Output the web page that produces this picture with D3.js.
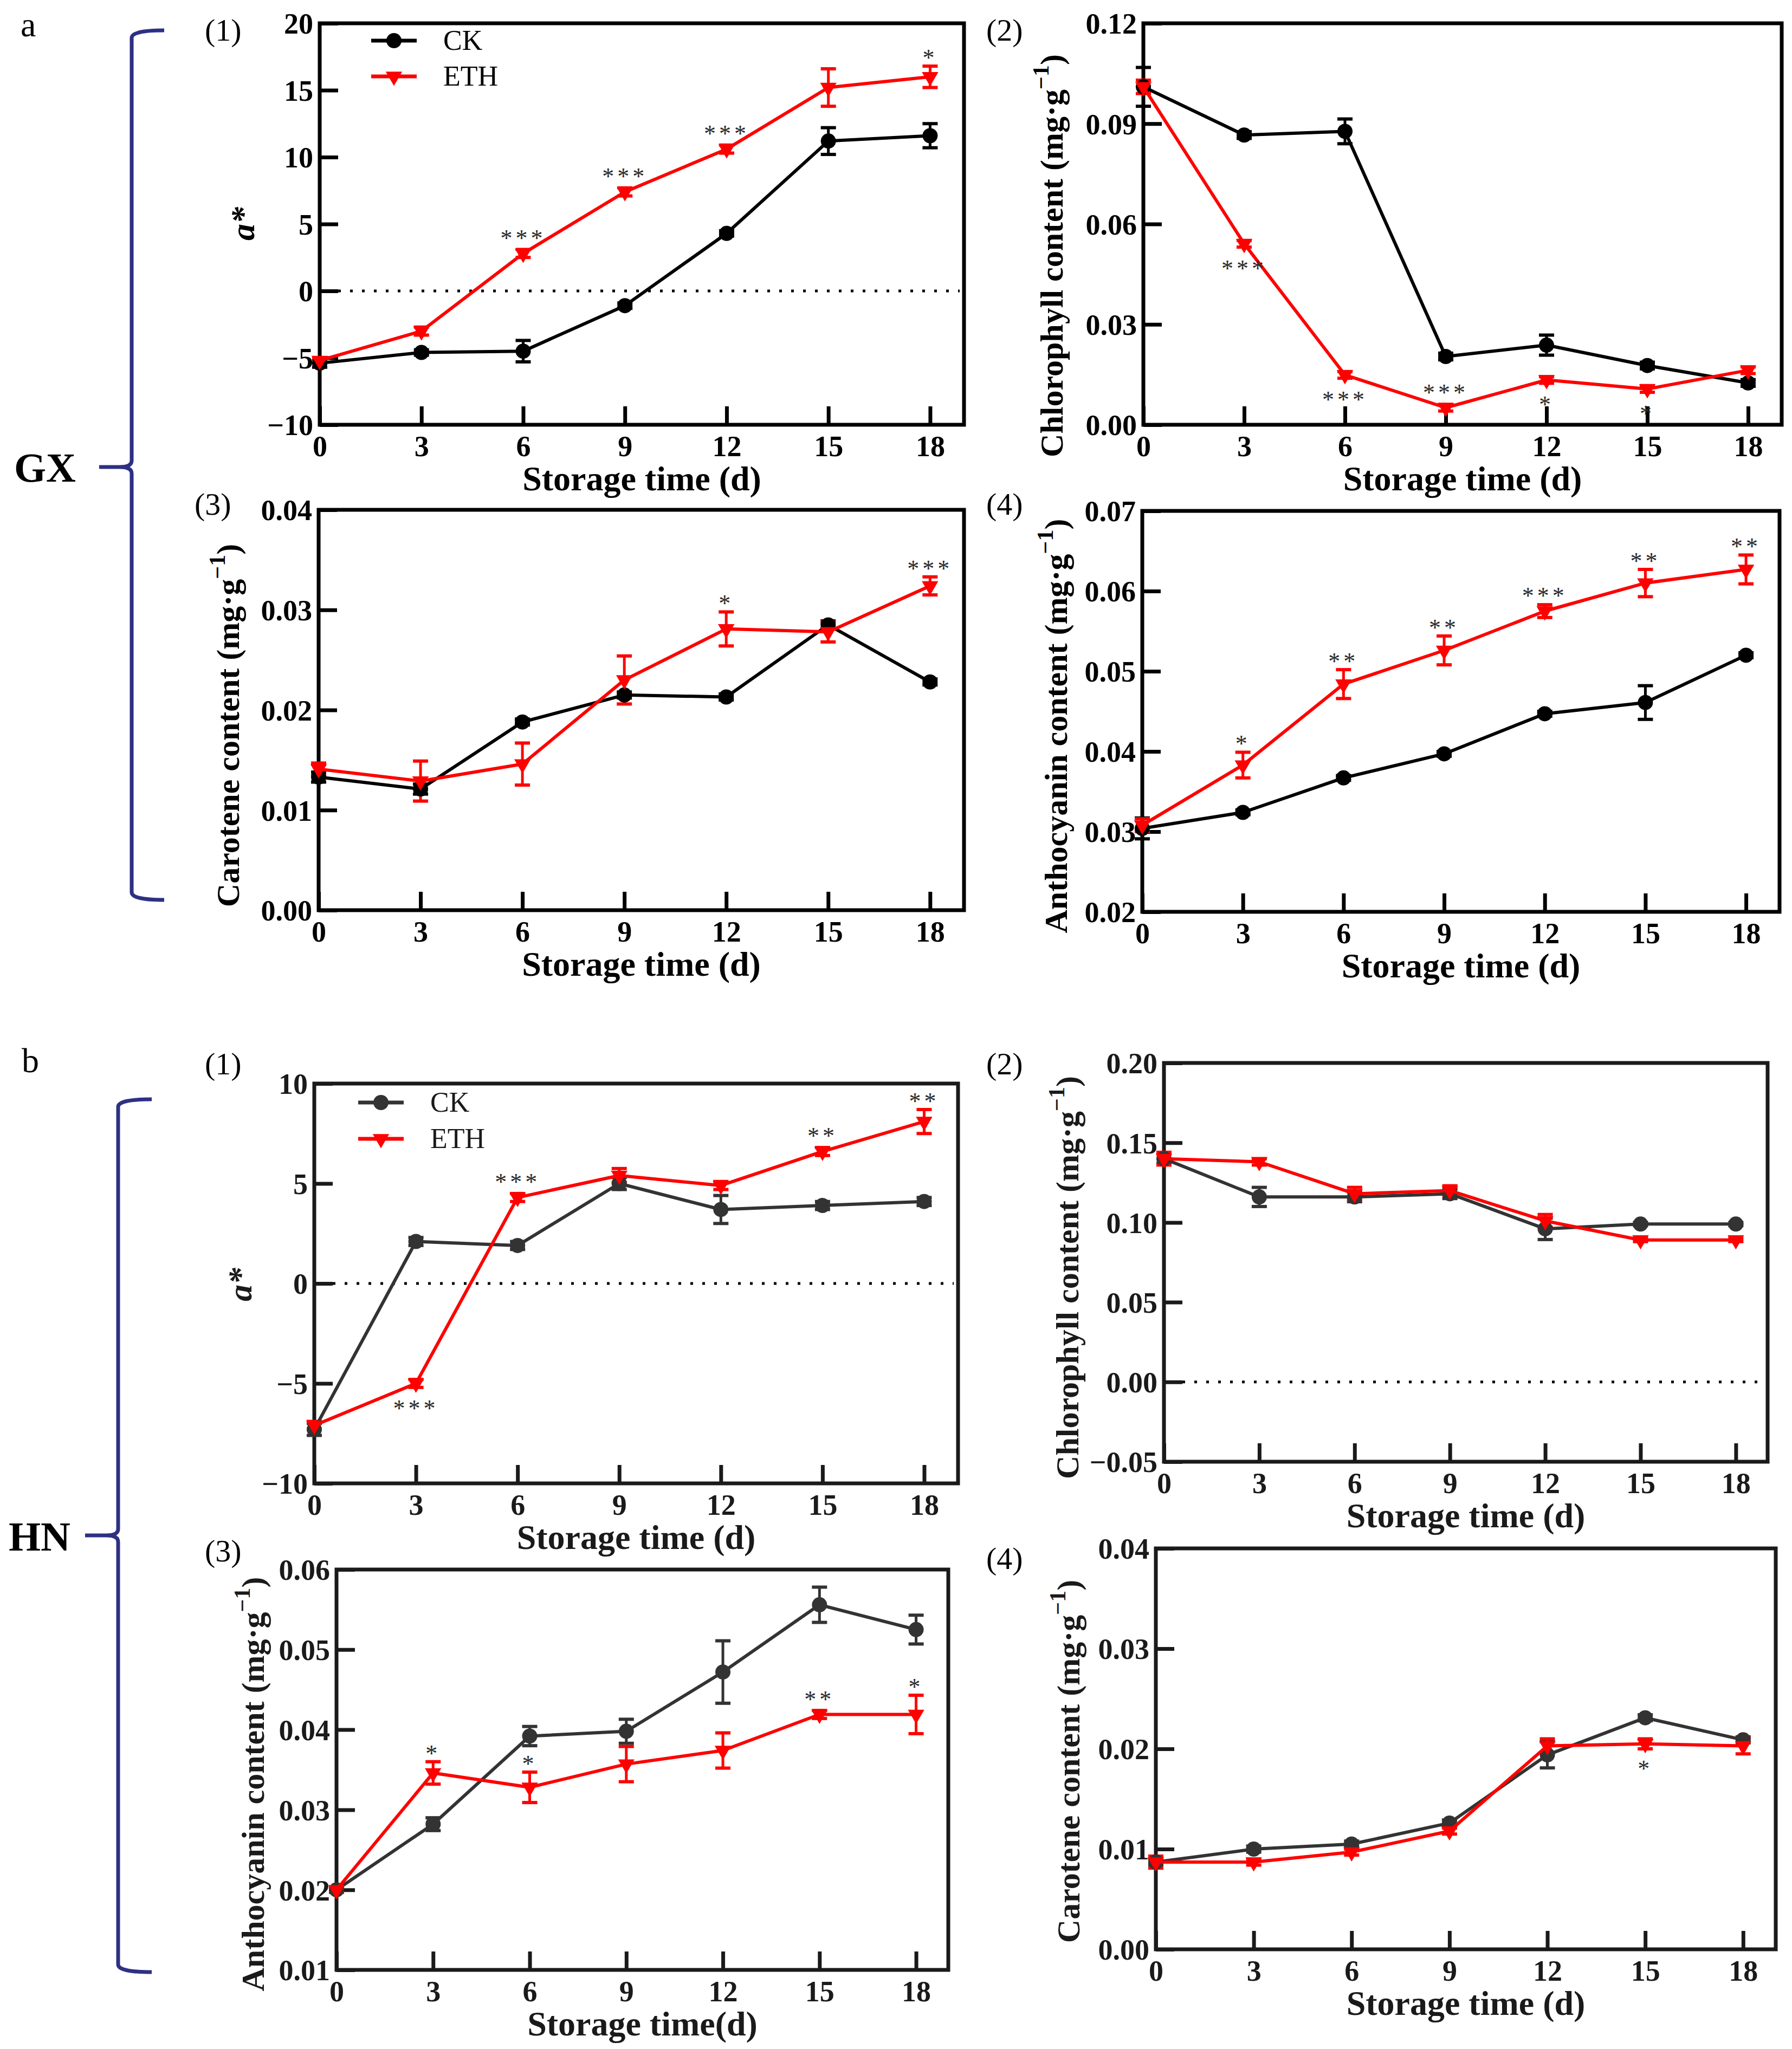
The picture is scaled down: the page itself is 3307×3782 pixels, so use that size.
<!DOCTYPE html>
<html lang="en">
<head>
<meta charset="UTF-8">
<title>GX / HN colour and pigment changes during storage</title>
<style>
    body { margin: 0; background: #fff; }
    svg { display: block; font-family: "Liberation Serif", "Times New Roman", serif; }
</style>
</head>
<body>
<svg id="fig" width="3307" height="3782"></svg>
<script src="https://d3js.org/d3.v7.min.js"></script>
<script>
    // Storage days (x axis)
    const days = [0, 3, 6, 9, 12, 15, 18];
    const seriesNames = ["CK", "ETH"];

    // ---- a: GX ----
    const gxAstarCK      = [-5.4, -4.6, -4.5, -1.1, 4.3, 11.2, 11.6];
    const gxAstarCKErr   = [0.3, 0.2, 0.8, 0.2, 0.2, 1.0, 0.9];
    const gxAstarETH     = [-5.2, -3.0, 2.8, 7.4, 10.6, 15.2, 16.0];
    const gxAstarETHErr  = [0.2, 0.3, 0.3, 0.3, 0.3, 1.4, 0.8];
    const gxAstarSig     = ["", "", "***", "***", "***", "", "*"];
    const gxAstarSide    = ["", "", "up", "up", "up", "", "up"];

    const gxChlCK        = [0.101, 0.0866, 0.0877, 0.0204, 0.0238, 0.0177, 0.0125];
    const gxChlCKErr     = [0.0058, 0.001, 0.0037, 0.001, 0.003, 0.001, 0.001];
    const gxChlETH       = [0.101, 0.0541, 0.0149, 0.0051, 0.0134, 0.0107, 0.0163];
    const gxChlETHErr    = [0.002, 0.001, 0.001, 0.001, 0.001, 0.001, 0.001];
    const gxChlSig       = ["", "***", "***", "***", "*", "*", ""];
    const gxChlSide      = ["", "down", "down", "up", "down", "down", ""];

    const gxCarCK        = [0.0133, 0.0121, 0.0188, 0.0215, 0.0213, 0.0285, 0.0228];
    const gxCarCKErr     = [0.0005, 0.0005, 0.0003, 0.0003, 0.0003, 0.0004, 0.0003];
    const gxCarETH       = [0.0141, 0.0129, 0.0146, 0.0230, 0.0281, 0.0278, 0.0324];
    const gxCarETHErr    = [0.0006, 0.002, 0.0021, 0.0024, 0.0017, 0.001, 0.0009];
    const gxCarSig       = ["", "", "", "", "*", "", "***"];
    const gxCarSide      = ["", "", "", "", "up", "", "up"];

    const gxAntCK        = [0.0304, 0.0324, 0.0367, 0.0397, 0.0447, 0.0461, 0.0520];
    const gxAntCKErr     = [0.0013, 0.0003, 0.0003, 0.0003, 0.0003, 0.0021, 0.0003];
    const gxAntETH       = [0.0308, 0.0383, 0.0484, 0.0526, 0.0575, 0.0610, 0.0627];
    const gxAntETHErr    = [0.0008, 0.0016, 0.0018, 0.0018, 0.0008, 0.0017, 0.0018];
    const gxAntSig       = ["", "*", "**", "**", "***", "**", "**"];
    const gxAntSide      = ["", "up", "up", "up", "up", "up", "up"];

    // ---- b: HN ----
    const hnAstarCK      = [-7.3, 2.1, 1.9, 5.0, 3.7, 3.9, 4.1];
    const hnAstarCKErr   = [0.3, 0.2, 0.2, 0.3, 0.7, 0.2, 0.2];
    const hnAstarETH     = [-7.1, -5.0, 4.3, 5.4, 4.9, 6.6, 8.1];
    const hnAstarETHErr  = [0.2, 0.2, 0.2, 0.35, 0.2, 0.2, 0.6];
    const hnAstarSig     = ["", "***", "***", "", "", "**", "**"];
    const hnAstarSide    = ["", "down", "up", "", "", "up", "up"];

    const hnChlCK        = [0.140, 0.116, 0.116, 0.118, 0.096, 0.099, 0.099];
    const hnChlCKErr     = [0.003, 0.006, 0.003, 0.003, 0.0067, 0.001, 0.001];
    const hnChlETH       = [0.140, 0.138, 0.118, 0.120, 0.101, 0.089, 0.089];
    const hnChlETHErr    = [0.004, 0.002, 0.004, 0.003, 0.004, 0.001, 0.001];
    const hnChlSig       = ["", "", "", "", "", "", ""];
    const hnChlSide      = ["", "", "", "", "", "", ""];

    const hnAntCK        = [0.020, 0.0282, 0.0392, 0.0398, 0.0472, 0.0556, 0.0525];
    const hnAntCKErr     = [0.0003, 0.0008, 0.0012, 0.0015, 0.0039, 0.0022, 0.0018];
    const hnAntETH       = [0.020, 0.0346, 0.0328, 0.0357, 0.0374, 0.0419, 0.0419];
    const hnAntETHErr    = [0.0003, 0.0014, 0.0019, 0.0022, 0.0022, 0.0005, 0.0024];
    const hnAntSig       = ["", "*", "*", "", "", "**", "*"];
    const hnAntSide      = ["", "up", "up", "", "", "up", "up"];

    const hnCarCK        = [0.0087, 0.0100, 0.0105, 0.0126, 0.0194, 0.0231, 0.0209];
    const hnCarCKErr     = [0.0003, 0.0003, 0.0003, 0.0003, 0.0013, 0.0003, 0.0003];
    const hnCarETH       = [0.0087, 0.0087, 0.0097, 0.0118, 0.0203, 0.0205, 0.0203];
    const hnCarETHErr    = [0.0006, 0.0003, 0.0003, 0.0003, 0.0007, 0.0005, 0.0008];
    const hnCarSig       = ["", "", "", "", "", "*", ""];
    const hnCarSide      = ["", "", "", "", "", "down", ""];

    // Tick values
    const astarTicksGX = [-10, -5, 0, 5, 10, 15, 20];
    const astarTicksHN = [-10, -5, 0, 5, 10];
    const chlTicksGX   = [0, 0.03, 0.06, 0.09, 0.12];
    const chlTicksHN   = [-0.05, 0, 0.05, 0.10, 0.15, 0.20];
    const pig4Ticks    = [0, 0.01, 0.02, 0.03, 0.04];
    const antTicksGX   = [0.02, 0.03, 0.04, 0.05, 0.06, 0.07];
    const antTicksHN   = [0.01, 0.02, 0.03, 0.04, 0.05, 0.06];

    const RED = "#ff0000";
    const svg = d3.select("#fig");
    const fmtInt = d3.format("d");
    const fmt2 = d3.format(".2f");

    // Panel layout (pixels) and which arrays they use
    const panels = [
        { tag: "(1)", tagPos: [378, 75], box: [590, 43, 1779, 784], yDomain: [-10, 20], ticks: astarTicksGX, fmt: fmtInt,
          yTitle: "astar", yTitlePos: [469, 413], ck: gxAstarCK, ckErr: gxAstarCKErr, eth: gxAstarETH, ethErr: gxAstarETHErr,
          sig: gxAstarSig, side: gxAstarSide, ckColor: "#000", frame: "#000", zero: true, legend: [685, 75, 141], xTitle: "Storage time (d)" },
        { tag: "(2)", tagPos: [1820, 75], box: [2110, 43, 3288, 784], yDomain: [0, 0.12], ticks: chlTicksGX, fmt: fmt2,
          yTitle: "Chlorophyll content", yTitlePos: [1961, 472], ck: gxChlCK, ckErr: gxChlCKErr, eth: gxChlETH, ethErr: gxChlETHErr,
          sig: gxChlSig, side: gxChlSide, ckColor: "#000", frame: "#000", zero: false, xTitle: "Storage time (d)" },
        { tag: "(3)", tagPos: [359, 950], box: [588, 941, 1779, 1680], yDomain: [0, 0.04], ticks: pig4Ticks, fmt: fmt2,
          yTitle: "Carotene content", yTitlePos: [441, 1339], ck: gxCarCK, ckErr: gxCarCKErr, eth: gxCarETH, ethErr: gxCarETHErr,
          sig: gxCarSig, side: gxCarSide, ckColor: "#000", frame: "#000", zero: false, xTitle: "Storage time (d)" },
        { tag: "(4)", tagPos: [1820, 950], box: [2108, 943, 3284, 1683], yDomain: [0.02, 0.07], ticks: antTicksGX, fmt: fmt2,
          yTitle: "Anthocyanin content", yTitlePos: [1969, 1340], ck: gxAntCK, ckErr: gxAntCKErr, eth: gxAntETH, ethErr: gxAntETHErr,
          sig: gxAntSig, side: gxAntSide, ckColor: "#000", frame: "#000", zero: false, xTitle: "Storage time (d)" },
        { tag: "(1)", tagPos: [378, 1983], box: [580, 2000, 1768, 2738], yDomain: [-10, 10], ticks: astarTicksHN, fmt: fmtInt,
          yTitle: "astar", yTitlePos: [464, 2371], ck: hnAstarCK, ckErr: hnAstarCKErr, eth: hnAstarETH, ethErr: hnAstarETHErr,
          sig: hnAstarSig, side: hnAstarSide, ckColor: "#333", frame: "#1a1a1a", zero: true, legend: [661, 2035, 2102], xTitle: "Storage time (d)" },
        { tag: "(2)", tagPos: [1820, 1983], box: [2148, 1962, 3262, 2698], yDomain: [-0.05, 0.20], ticks: chlTicksHN, fmt: fmt2,
          yTitle: "Chlorophyll content", yTitlePos: [1990, 2358], ck: hnChlCK, ckErr: hnChlCKErr, eth: hnChlETH, ethErr: hnChlETHErr,
          sig: hnChlSig, side: hnChlSide, ckColor: "#333", frame: "#1a1a1a", zero: true, xTitle: "Storage time (d)" },
        { tag: "(3)", tagPos: [378, 2882], box: [621, 2897, 1750, 3636], yDomain: [0.01, 0.06], ticks: antTicksHN, fmt: fmt2,
          yTitle: "Anthocyanin content", yTitlePos: [487, 3293], ck: hnAntCK, ckErr: hnAntCKErr, eth: hnAntETH, ethErr: hnAntETHErr,
          sig: hnAntSig, side: hnAntSide, ckColor: "#333", frame: "#1a1a1a", zero: false, xTitle: "Storage time(d)" },
        { tag: "(4)", tagPos: [1820, 2896], box: [2133, 2858, 3277, 3598], yDomain: [0, 0.04], ticks: pig4Ticks, fmt: fmt2,
          yTitle: "Carotene content", yTitlePos: [1992, 3251], ck: hnCarCK, ckErr: hnCarCKErr, eth: hnCarETH, ethErr: hnCarETHErr,
          sig: hnCarSig, side: hnCarSide, ckColor: "#333", frame: "#1a1a1a", zero: false, xTitle: "Storage time (d)" }
    ];

    const triangle = d3.symbol().type(d3.symbolTriangle).size(400);

    function drawMarker(g, kind, cx, cy, color) {
        if (kind === "CK") {
            g.append("circle").attr("cx", cx).attr("cy", cy).attr("r", 14).attr("fill", color);
        } else {
            g.append("path").attr("d", triangle())
                .attr("transform", `translate(${cx},${cy}) rotate(180)`)
                .attr("fill", color);
        }
    }

    function drawPanel(p) {
        const [x0, y0, x1, y1] = p.box;
        const x = d3.scaleLinear().domain([0, 19]).range([x0, x1]);
        const y = d3.scaleLinear().domain(p.yDomain).range([y1, y0]);
        const g = svg.append("g");

        // frame
        g.append("rect").attr("x", x0).attr("y", y0)
            .attr("width", x1 - x0).attr("height", y1 - y0)
            .attr("fill", "none").attr("stroke", p.frame).attr("stroke-width", 7);

        // axes, ticks pointing inward
        const xa = g.append("g").attr("transform", `translate(0,${y1})`)
            .call(d3.axisBottom(x).tickValues(days).tickSize(-34).tickFormat(fmtInt));
        const ya = g.append("g").attr("transform", `translate(${x0},0)`)
            .call(d3.axisLeft(y).tickValues(p.ticks).tickSize(-34).tickFormat(p.fmt));
        [xa, ya].forEach(a => {
            a.select(".domain").remove();
            a.attr("font-family", null).attr("font-size", null);
            a.selectAll("line").attr("stroke", p.frame).attr("stroke-width", 7);
            a.selectAll("text").attr("fill", p.frame)
                .style("font-size", "54px").style("font-weight", "bold");
        });
        xa.selectAll("text").attr("y", 58).attr("dy", null);
        ya.selectAll("text").attr("x", -12).attr("dy", "0.35em");

        // dotted zero line
        if (p.zero) {
            g.append("line").attr("x1", x0 + 34).attr("x2", x1 - 8)
                .attr("y1", y(0)).attr("y2", y(0))
                .attr("stroke", "#000").attr("stroke-width", 5)
                .attr("stroke-dasharray", "5 17");
        }

        // axis titles
        g.append("text").attr("x", (x0 + x1) / 2).attr("y", y1 + 121)
            .attr("text-anchor", "middle").style("font-size", "64px").style("font-weight", "bold")
            .attr("fill", p.frame).text(p.xTitle);

        const [tx, ty] = p.yTitlePos;
        const yt = g.append("text").attr("transform", `translate(${tx},${ty}) rotate(-90)`)
            .attr("text-anchor", "middle").style("font-weight", "bold").attr("fill", p.frame);
        if (p.yTitle === "astar") {
            yt.style("font-size", "62px").style("font-style", "italic").text("a*");
        } else {
            yt.style("font-size", "60px");
            yt.append("tspan").text(p.yTitle + " (mg·g");
            yt.append("tspan").attr("dy", -26).style("font-size", "42px").text("−1");
            yt.append("tspan").attr("dy", 26).text(")");
        }

        // panel tag
        svg.append("text").attr("x", p.tagPos[0]).attr("y", p.tagPos[1])
            .style("font-size", "58px").text(p.tag);

        const series = [
            { name: "CK", v: p.ck, e: p.ckErr, color: p.ckColor },
            { name: "ETH", v: p.eth, e: p.ethErr, color: RED }
        ];

        // error bars
        series.forEach(s => {
            days.forEach((d, i) => {
                const cx = x(d), top = y(s.v[i] + s.e[i]), bot = y(s.v[i] - s.e[i]);
                g.append("line").attr("x1", cx).attr("x2", cx).attr("y1", top).attr("y2", bot)
                    .attr("stroke", s.color).attr("stroke-width", 5);
                [top, bot].forEach(yy => g.append("line")
                    .attr("x1", cx - 14).attr("x2", cx + 14).attr("y1", yy).attr("y2", yy)
                    .attr("stroke", s.color).attr("stroke-width", 6));
            });
        });

        // lines and markers (CK first, ETH on top like the reference)
        const line = d3.line().x((d, i) => x(days[i])).y(d => y(d));
        series.forEach(s => {
            g.append("path").datum(s.v).attr("d", line)
                .attr("fill", "none").attr("stroke", s.color).attr("stroke-width", 6)
                .attr("stroke-linejoin", "round");
            s.v.forEach((v, i) => drawMarker(g, s.name, x(days[i]), y(v), s.color));
        });

        // significance stars next to ETH points
        p.sig.forEach((txt, i) => {
            if (!txt) return;
            const v = p.eth[i], e = p.ethErr[i];
            let cy;
            if (p.side[i] === "up") {
                cy = Math.min(y(v + e), y(v) - 13) - 21;
            } else {
                cy = Math.max(y(v - e), y(v) + 13) + 27;
            }
            g.append("text").attr("x", x(days[i])).attr("y", cy + 20)
                .attr("text-anchor", "middle").style("font-size", "44px")
                .style("letter-spacing", "6px").attr("fill", "#2a2a2a").text(txt);
        });

        // legend
        if (p.legend) {
            const [lx, ly1, ly2] = p.legend;
            series.forEach((s, k) => {
                const ly = k === 0 ? ly1 : ly2;
                g.append("line").attr("x1", lx).attr("x2", lx + 84).attr("y1", ly).attr("y2", ly)
                    .attr("stroke", s.color).attr("stroke-width", 7);
                drawMarker(g, s.name, lx + 42, ly, s.color);
                g.append("text").attr("x", lx + 133).attr("y", ly + 17)
                    .style("font-size", "52px").attr("fill", p.frame).text(seriesNames[k]);
            });
        }
    }

    panels.forEach(drawPanel);

    // Group braces and labels on the left
    function brace(xv, yTop, yBot, yTip, armX, tipX) {
        const path = `M${armX},${yTop} Q${xv},${yTop} ${xv},${yTop + 14} L${xv},${yTip - 12} ` +
            `Q${xv},${yTip} ${xv - 22},${yTip} L${tipX},${yTip} M${xv - 22},${yTip} ` +
            `Q${xv},${yTip} ${xv},${yTip + 12} L${xv},${yBot - 14} Q${xv},${yBot} ${armX},${yBot}`;
        svg.append("path").attr("d", path).attr("fill", "none")
            .attr("stroke", "#2e3084").attr("stroke-width", 7);
    }
    brace(243, 56, 1661, 862, 303, 183);
    brace(218, 2029, 3640, 2834, 280, 157);

    svg.append("text").attr("x", 38).attr("y", 67).style("font-size", "64px").text("a");
    svg.append("text").attr("x", 40).attr("y", 1979).style("font-size", "64px").text("b");
    svg.append("text").attr("x", 26).attr("y", 889).style("font-size", "76px").style("font-weight", "bold").text("GX");
    svg.append("text").attr("x", 16).attr("y", 2862).style("font-size", "76px").style("font-weight", "bold").text("HN");
</script>
</body>
</html>
